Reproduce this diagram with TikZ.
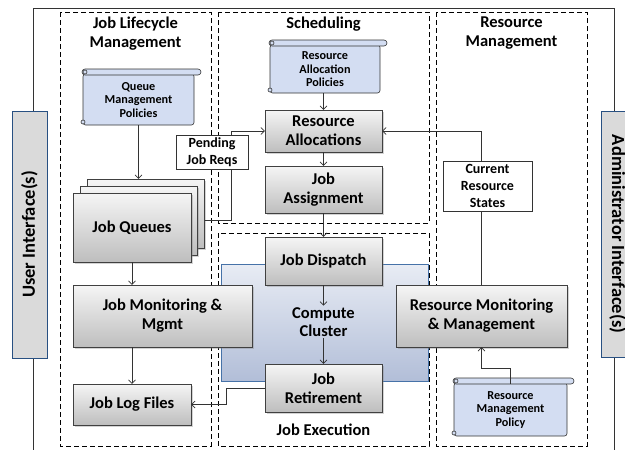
\documentclass[tikz,border=0pt]{standalone}
\usepackage{fontspec}
\setmainfont{Carlito}
\usetikzlibrary{arrows.meta}
\usetikzlibrary{shadows}
\usetikzlibrary{calc}

\definecolor{boxtop}{RGB}{245,245,245}
\definecolor{boxbot}{RGB}{190,190,190}
\definecolor{policyblue}{RGB}{211,221,242}
\definecolor{clustertop}{RGB}{232,236,244}
\definecolor{clusterbot}{RGB}{178,190,216}
\definecolor{clusterline}{RGB}{70,114,168}
\definecolor{uifill}{RGB}{218,218,218}
\definecolor{uiline}{RGB}{40,80,130}

\tikzset{
  graybox/.style={draw=black!75, top color=boxtop, bottom color=boxbot, align=center, inner sep=2pt,
    drop shadow={shadow xshift=1.5pt, shadow yshift=-1.5pt, opacity=0.35},
    font=\bfseries\fontsize{16.5}{19}\selectfont},
  backbox/.style={graybox, font=\tiny},
  region/.style={draw=black, dashed, dash pattern=on 5pt off 3pt, line width=0.9pt},
  regiontitle/.style={align=center, font=\bfseries\fontsize{16.5}{19}\selectfont},
  policyline/.style={draw=black!80, fill=policyblue, line width=0.6pt},
  policytext/.style={align=center, inner sep=0pt, font=\bfseries\fontsize{12.2}{13.5}\selectfont},
  tagbox/.style={draw=black!80, fill=white, align=center, inner sep=1pt, line width=0.6pt,
    font=\bfseries\fontsize{14}{17}\selectfont},
  uibox/.style={draw=uiline, fill=uifill, line width=0.8pt, inner sep=0pt,
    font=\bfseries\fontsize{18.5}{21}\selectfont},
  conn/.style={draw=black!80, line width=0.7pt, -{Straight Barb[length=3.5pt,width=7pt]}}
}

\newcommand{\policy}[6]{%
  \draw[policyline, rounded corners=2.5pt] (#2+1,#3+5) -- (#4-7,#3+5) -- (#4-7,#5) -- (#2+1,#5) -- cycle;
  \draw[policyline, rounded corners=3pt] (#2,#3) rectangle (#4,#3+6);
  \draw[policyline] (#2+3,#3+3) circle (2);
  \draw[policyline] (#2+1,#5-3) circle (2);
  \node[policytext, minimum width=#4-#2-8, minimum height=#5-#3-6] (#1) at ({(#2+#4-6)/2},{(#3+6+#5)/2}) {#6};
}

\begin{document}
\begin{tikzpicture}[x=1pt,y=-1pt]
  \useasboundingbox (0,0) rectangle (625,450);
  \clip (0,0) rectangle (625,450);

  \draw[black!80, line width=0.6pt] (33,452) -- (33,8) -- (614,8) -- (614,452);
  \node[uibox, rotate=90, minimum width=247, minimum height=35] (ui) at (29.5,234.5) {User Interface(s)};
  \node[uibox, rotate=-90, minimum width=246, minimum height=33] (admin) at (617.5,234) {Administrator Interface(s)};

  \draw[region] (60,12) rectangle (211,446);
  \draw[region] (218,12) rectangle (429,223);
  \draw[region] (218,233) rectangle (429,446);
  \draw[region] (436,12) rectangle (587,446);

  \node[regiontitle] (jlmtitle) at (135.5,33.5) {Job Lifecycle\\Management};
  \node[regiontitle] (schedtitle) at (323.5,24) {Scheduling};
  \node[regiontitle] (rmtitle) at (511.5,33.5) {Resource\\Management};
  \node[regiontitle] (exectitle) at (323.5,430) {Job Execution};

  \draw[draw=clusterline, top color=clustertop, bottom color=clusterbot, line width=0.7pt] (221,264) rectangle (428,381);
  \node[align=center, inner sep=1.5pt, font=\bfseries\fontsize{16.5}{18.5}\selectfont] (cluster) at (323.5,322) {Compute\\Cluster};

  \policy{qpol}{82}{69}{201}{125}{Queue\\Management\\Policies}
  \policy{rapol}{269}{40}{387}{93}{Resource\\Allocation\\Policies}
  \policy{rmpol}{453}{378}{574}{436}{Resource\\Management\\Policy}

  \node[backbox, minimum width=117, minimum height=69] (jqback) at (146,213.5) {};
  \node[backbox, minimum width=117, minimum height=69] (jqmid) at (139,220.5) {};
  \node[graybox, minimum width=118, minimum height=69] (jq) at (132,227.5) {Job Queues};
  \node[graybox, minimum width=179, minimum height=62] (jmon) at (162.5,316) {Job Monitoring \&\\Mgmt};
  \node[graybox, minimum width=118, minimum height=41] (logs) at (132,404.5) {Job Log Files};

  \node[graybox, minimum width=117, minimum height=42] (alloc) at (323.5,131) {Resource\\Allocations};
  \node[graybox, minimum width=117, minimum height=47] (assign) at (323.5,189.5) {Job\\Assignment};
  \node[graybox, minimum width=117, minimum height=48] (dispatch) at (323.5,261) {Job Dispatch};
  \node[graybox, minimum width=117, minimum height=48] (retire) at (323.5,388) {Job\\Retirement};
  \node[graybox, minimum width=171, minimum height=62] (resmon) at (481.5,316) {Resource Monitoring\\\& Management};

  \draw[conn] (qpol.south) -- (qpol.south |- jqback.north);
  \draw[conn] (jq.south) -- (jq.south |- jmon.north);
  \draw[conn] (jmon.south -| logs.north) -- (logs.north);
  \draw[conn] (jqmid.east -| jqback.east) -- ++(27,0) |- (alloc.west);
  \draw[conn] (rapol.south -| alloc.north) -- (alloc.north);
  \draw[conn] (alloc) -- (assign);
  \draw[conn] (assign) -- (dispatch);
  \draw[conn] (dispatch) -- (cluster);
  \draw[conn] (cluster) -- (retire);
  \draw[conn] (retire.west) -- ++(-38,0) |- (logs.east);
  \draw[conn] (rmpol.north) -- ++(0,-15) -| (resmon.south);
  \draw[conn] (resmon.north) |- (alloc.east);

  \node[tagbox, minimum width=72, minimum height=34] (pending) at (212,152) {Pending\\Job Reqs};
  \node[tagbox, minimum width=89, minimum height=50] (current) at (487.5,186) {Current\\Resource\\States};
\end{tikzpicture}
\end{document}
